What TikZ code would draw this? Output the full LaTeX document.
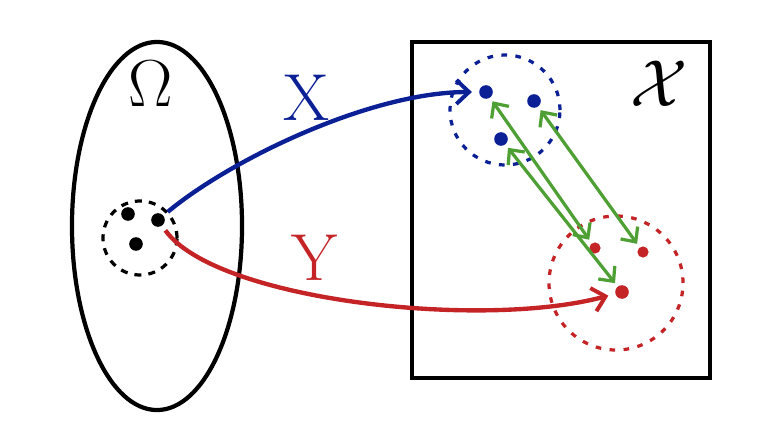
\documentclass[tikz,border=0pt]{standalone}
\usepackage{amsmath}
\usetikzlibrary{arrows.meta,shapes.geometric}

\definecolor{mapblue}{RGB}{12,32,150}
\definecolor{mapred}{RGB}{196,36,38}
\definecolor{pairgreen}{RGB}{78,160,52}

\begin{document}
\begin{tikzpicture}[
  x=0.025cm, y=-0.025cm,
  dot/.style={circle, fill, inner sep=0pt, minimum size=0.34cm},
  cloud/.style={circle, draw, line width=2.3pt, dash pattern=on 5pt off 5pt},
  big/.style={font=\Huge, scale=1.9},
  map/.style={line width=3.1pt, -{Straight Barb[length=9pt, width=17pt, line width=2.8pt]}},
  pair/.style={pairgreen, line width=2.3pt, {Straight Barb[length=8pt, width=15pt]}-{Straight Barb[length=8pt, width=15pt]}, shorten <=3pt, shorten >=3pt}
]
\useasboundingbox (0,0) rectangle (778,440);

% sample space and value space
\node[draw, ellipse, line width=3pt, minimum width=4.25cm, minimum height=9.2cm] (omegaset) at (157,226) {};
\node[draw, line width=3.2pt, minimum width=7.45cm, minimum height=8.4cm] (space) at (561,210) {};
\node[big] (omegalab) at (151,84) {$\Omega$};
\node[big] (spacelab) at (659,84) {$\mathcal{X}$};

% outcomes
\node[cloud, minimum size=1.85cm] (event) at (140,238) {};
\node[dot] (k1) at (128,214) {};
\node[dot] (k2) at (158,220) {};
\node[dot] (k3) at (136,244) {};

% images under X
\node[cloud, mapblue, minimum size=2.75cm, dash pattern=on 4pt off 6pt] (bluecl) at (505,110) {};
\node[dot, mapblue] (b1) at (486,92) {};
\node[dot, mapblue] (b2) at (534,101) {};
\node[dot, mapblue] (b3) at (501,139) {};

% images under Y
\node[cloud, mapred, minimum size=3.35cm, dash pattern=on 4pt off 6pt] (redcl) at (616,283) {};
\node[dot, mapred, minimum size=0.28cm] (r1) at (595,248) {};
\node[dot, mapred, minimum size=0.28cm] (r2) at (643,252) {};
\node[dot, mapred] (r3) at (622,292) {};

% the two maps
\draw[map, mapblue, shorten <=4pt, shorten >=5pt] (k2) .. controls (230,160) and (370,92) .. (b1);
\draw[map, mapred, shorten <=4pt, shorten >=5pt] (k2) .. controls (215,300) and (480,330) .. (r3);
\node[big, mapblue] (xlab) at (307,98) {X};
\node[big, mapred] (ylab) at (315,258) {Y};

% matching pairs
\draw[pair] (b1) -- (r1);
\draw[pair] (b2) -- (r2);
\draw[pair] (b3) -- (r3);
\end{tikzpicture}
\end{document}
